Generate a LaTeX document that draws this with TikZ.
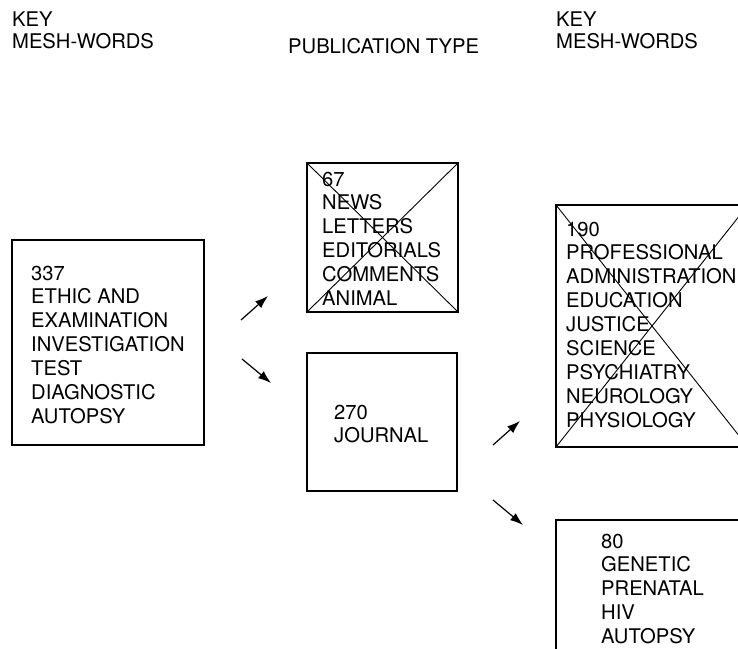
\documentclass[tikz,border=0pt]{standalone}
\usepackage{fontspec}
\setmainfont{TeX Gyre Heros}
\usetikzlibrary{arrows.meta}

\tikzset{
  box/.style={draw, line width=1.1bp, inner sep=0pt, outer sep=0pt, anchor=north west},
  words/.style={anchor=north west, inner sep=0pt, align=left, font=\fontsize{20.2bp}{23.9bp}\selectfont},
  head/.style={anchor=north west, inner sep=0pt, align=left, font=\fontsize{20.2bp}{22.5bp}\selectfont},
  cross/.style={line width=0.9bp},
  flow/.style={line width=1.2bp, -{Latex[length=13bp, width=9bp]}}
}

\begin{document}
\begin{tikzpicture}[x=1bp, y=-1bp]
            \path[use as bounding box, clip] (0, 0) rectangle (738, 649);

            % headings
            \node[head] (keyleft) at (12, 11.5) {KEY\\MESH-WORDS};
            \node[head, anchor=base west] (pubtype) at (288, 54) {PUBLICATION TYPE};
            \node[head] (keyright) at (556, 11.5) {KEY\\MESH-WORDS};

            % boxes
            \node[box, minimum width=192bp, minimum height=205bp] (ethic) at (12, 240) {};
            \node[box, minimum width=151bp, minimum height=149bp] (news) at (307, 163) {};
            \node[box, minimum width=150bp, minimum height=138bp] (journal) at (307, 353) {};
            \node[box, minimum width=192bp, minimum height=242bp] (professional) at (556, 205) {};
            \node[box, minimum width=192bp, minimum height=160bp] (genetic) at (556, 520) {};

            \draw[cross] (news.north west) -- (news.south east);
            \draw[cross] (news.south west) -- (news.north east);
            \draw[cross] (professional.north west) -- (professional.south east);
            \draw[cross] (professional.south west) -- (professional.north east);

            % box texts
            \node[words] (ethictext) at (31, 265.5)
                {337\\ETHIC AND\\EXAMINATION\\INVESTIGATION\\TEST\\DIAGNOSTIC\\AUTOPSY};
            \node[words] (newstext) at (322, 171.5)
                {67\\NEWS\\LETTERS\\EDITORIALS\\COMMENTS\\ANIMAL};
            \node[words] (journaltext) at (334, 404.5) {270\\JOURNAL};
            \node[words] (professionaltext) at (566, 221.5)
                {190\\PROFESSIONAL\\ADMINISTRATION\\EDUCATION\\JUSTICE\\SCIENCE\\PSYCHIATRY\\NEUROLOGY\\PHYSIOLOGY};
            \node[words] (genetictext) at (601, 533.5)
                {80\\GENETIC\\PRENATAL\\HIV\\AUTOPSY};

            % arrows
            \coordinate (upfrom) at (241, 320);
            \coordinate (upto) at (268, 296);
            \coordinate (downfrom) at (242, 359);
            \coordinate (downto) at (271, 383);
            \coordinate (rightupfrom) at (493, 445);
            \coordinate (rightupto) at (520, 421);
            \coordinate (rightdownfrom) at (493, 500);
            \coordinate (rightdownto) at (523, 525);

            \draw[flow] (upfrom) -- (upto);
            \draw[flow] (downfrom) -- (downto);
            \draw[flow] (rightupfrom) -- (rightupto);
            \draw[flow] (rightdownfrom) -- (rightdownto);
        \end{tikzpicture}
\end{document}
